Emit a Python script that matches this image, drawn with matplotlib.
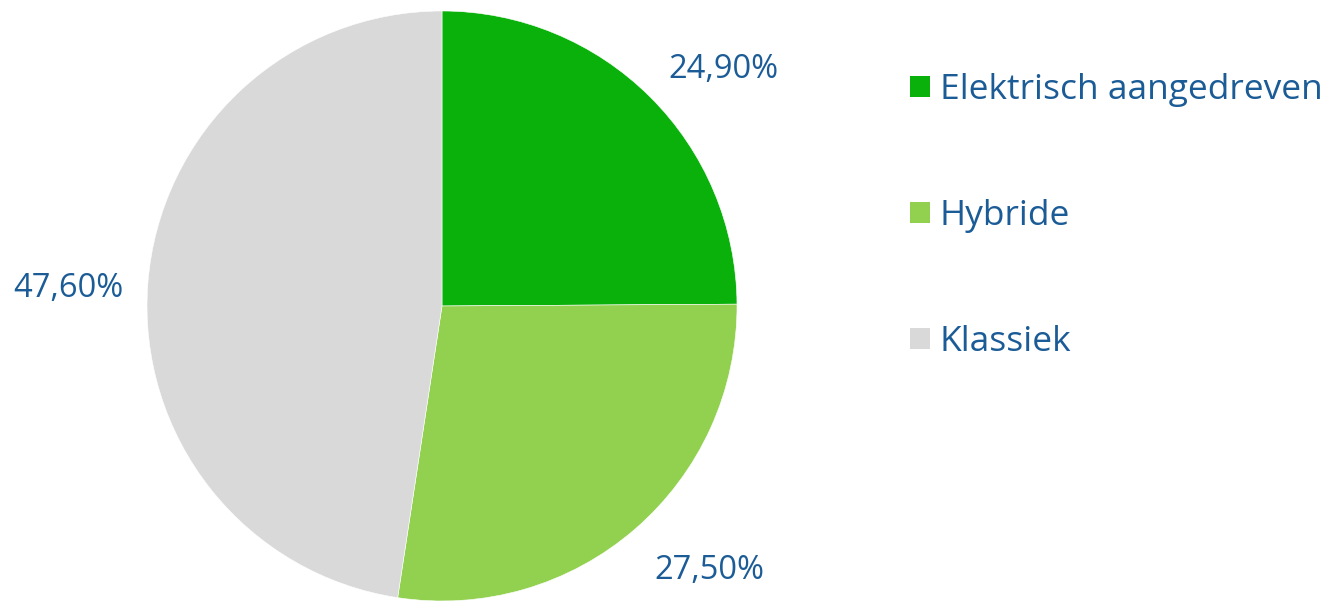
import matplotlib.pyplot as plt
from matplotlib.patches import Patch

# data
categories = ['Elektrisch aangedreven', 'Hybride', 'Klassiek']
values = [24.9, 27.5, 47.6]
labels = ['24,90%', '27,50%', '47,60%']
colors = ['#0AB10A', '#92D050', '#D9D9D9']
text_color = '#1B5C97'

plt.rcParams['font.family'] = ['Open Sans', 'DejaVu Sans']

fig = plt.figure(figsize=(13.31, 6.02), dpi=100)
# pie axes: center (442, 306) px, radius 295 px
ax = fig.add_axes([(442 - 295) / 1331, (602 - 306 - 295) / 602, 590 / 1331, 590 / 602])
wedges, _ = ax.pie(values, colors=colors, startangle=90, counterclock=False,
                   wedgeprops=dict(linewidth=0.4, edgecolor='white'))
ax.set_xlim(-1, 1)
ax.set_ylim(-1, 1)
ax.set_aspect('equal')

# data labels (positions in radius units, relative to the centre)
label_pos = [(0.953, 0.802), (0.908, -0.898), (-1.268, 0.058)]
for txt, (x, y) in zip(labels, label_pos):
    ax.text(x, y, txt, ha='center', va='center', fontsize=23.5, color=text_color, clip_on=False)

handles = [Patch(facecolor=c, edgecolor='none') for c in colors]
leg = fig.legend(handles, categories, loc='upper left', bbox_to_anchor=(910 / 1331, 1 - 73 / 602),
                 frameon=False, fontsize=25.5, handlelength=0.56, handleheight=0.56,
                 handletextpad=0.28, labelspacing=2.6, borderaxespad=0, borderpad=0)
for t in leg.get_texts():
    t.set_color(text_color)

fig.savefig('out.png', dpi=100)
